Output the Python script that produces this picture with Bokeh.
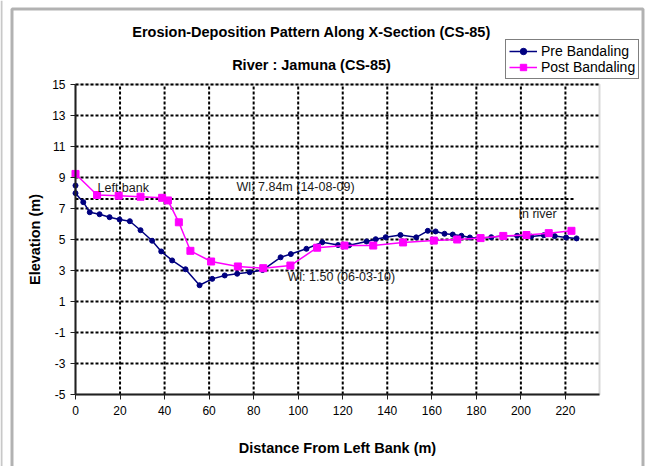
from math import pi
from bokeh.plotting import figure
from bokeh.models import (Range1d, FixedTicker, Label, Legend, LegendItem,
                          BoxAnnotation, Span)
from bokeh.embed import file_html
from bokeh.resources import INLINE

# ---------------- data ----------------
pre_x = [0, 0, 3.5, 6.4, 10.8, 15.3, 19.8, 24.4, 29.2, 34.4, 38.5, 43.4, 49.4,
         55.7, 61.4, 67.0, 72.6, 78.2, 84.0, 92.1, 96.7, 103.7, 110.8, 117.9,
         122.9, 130.7, 134.8, 139.3, 145.9, 153.0, 158.2, 161.7, 165.7, 169.4,
         173.3, 177.1, 181.9, 186.7, 192.1, 198.3, 204.6, 210.3, 215.2, 220.3, 225.0]
pre_y = [8.48, 7.99, 7.41, 6.76, 6.63, 6.44, 6.29, 6.18, 5.60, 4.92, 4.23, 3.65, 3.08,
         2.05, 2.46, 2.68, 2.79, 2.89, 3.03, 3.85, 4.06, 4.40, 4.82, 4.64,
         4.63, 4.87, 5.02, 5.15, 5.29, 5.14, 5.56, 5.52, 5.37, 5.32,
         5.24, 5.13, 5.09, 5.15, 5.24, 5.24, 5.19, 5.28, 5.22, 5.13, 5.07]

post_x = [0, 9.7, 19.4, 29.2, 38.9, 41.5, 46.4, 51.6, 60.9, 72.9, 84.3, 96.5,
          108.5, 120.8, 133.7, 147.1, 160.9, 171.4, 181.9, 192.1, 202.5, 212.5, 222.7]
post_y = [9.23, 7.87, 7.83, 7.76, 7.69, 7.52, 6.11, 4.27, 3.58, 3.26, 3.15, 3.32,
          4.47, 4.61, 4.61, 4.81, 4.93, 5.00, 5.09, 5.23, 5.29, 5.41, 5.56]

wl_x = [0, 224.5]
wl_y = [7.62, 7.62]

x_ticks = [0, 20, 40, 60, 80, 100, 120, 140, 160, 180, 200, 220]
y_ticks = [-5, -3, -1, 1, 3, 5, 7, 9, 11, 13, 15]

title_main = "Erosion-Deposition Pattern Along X-Section (CS-85)"
title_sub = "River : Jamuna (CS-85)"
x_label = "Distance From Left Bank (m)"
y_label = "Elevation (m)"
series_names = ["Pre Bandaling", "Post Bandaling"]

FONT = "Liberation Sans"

# ---------------- geometry ----------------
W, H = 646, 466
PLOT_L, PLOT_R, PLOT_T, PLOT_B = 75, 599, 84, 394
X_MIN, X_MAX, Y_MIN, Y_MAX = 0, 235.3, -5, 15
KX = (PLOT_R - PLOT_L) / (X_MAX - X_MIN)
KY = (PLOT_B - PLOT_T) / (Y_MAX - Y_MIN)


def px2x(px):
    return X_MIN + (px - PLOT_L) / KX


def py2y(py):
    return Y_MAX - (py - PLOT_T) / KY


p = figure(width=W, height=H,
           x_range=Range1d(px2x(0), px2x(W)), y_range=Range1d(py2y(H), py2y(0)),
           output_backend="svg", toolbar_location=None)
p.min_border_left = 0
p.min_border_right = 0
p.min_border_top = 0
p.min_border_bottom = 0
p.outline_line_color = None
p.background_fill_color = "white"
p.border_fill_color = "white"
p.xgrid.visible = False
p.ygrid.visible = False

# outer chart border
p.add_layout(BoxAnnotation(left=px2x(11.5), right=px2x(642.5), top=py2y(8.5),
                           bottom=py2y(H + 30), fill_color=None,
                           line_color="black", line_width=3))
p.add_layout(Span(location=px2x(1), dimension="height", line_color="#c8c8c8",
                  line_width=2))

# plot area border
p.add_layout(BoxAnnotation(left=X_MIN, right=X_MAX, bottom=Y_MIN, top=Y_MAX,
                           fill_color="white", fill_alpha=1,
                           line_color="#808080", line_width=2, level="underlay"))

# grid lines
gx = [t for t in x_ticks if t != X_MIN]
gy = [t for t in y_ticks if t != Y_MIN]
p.segment(x0=gx, y0=[Y_MIN] * len(gx), x1=gx, y1=[Y_MAX] * len(gx),
          line_color="black", line_width=2, line_dash="3 2")
p.segment(x0=[X_MIN] * len(gy), y0=gy, x1=[X_MAX] * len(gy), y1=gy,
          line_color="black", line_width=2, line_dash="3 2")

# axes
xa = p.xaxis[0]
xa.fixed_location = Y_MIN
xa.bounds = (X_MIN, X_MAX)
ya = p.yaxis[0]
ya.fixed_location = X_MIN
ya.bounds = (Y_MIN, Y_MAX)
for ax, ticks in ((xa, x_ticks), (ya, y_ticks)):
    ax.ticker = FixedTicker(ticks=ticks)
    ax.major_label_overrides = {t: str(t) for t in ticks}
    ax.minor_tick_line_color = None
    ax.major_tick_in = 0
    ax.major_tick_out = 5
    ax.axis_line_color = "#202020"
    ax.axis_line_width = 2
    ax.major_tick_line_color = "#202020"
    ax.major_tick_line_width = 1
    ax.major_label_text_font = FONT
    ax.major_label_text_font_size = "12px"
    ax.major_label_text_color = "black"
ya.major_label_standoff = 5
xa.major_label_standoff = 6

# water level line
p.line(wl_x, wl_y, line_color="black", line_width=2, line_dash="3 2")

r1 = p.line(pre_x, pre_y, line_color="#000080", line_width=1.5)
r2 = p.scatter(pre_x, pre_y, marker="circle", size=5, fill_color="#000080",
               line_color="#000080")
r3 = p.line(post_x, post_y, line_color="#FF00FF", line_width=1.5)
r4 = p.scatter(post_x, post_y, marker="square", size=7, fill_color="#FF00FF",
               line_color="#FF00FF")

legend = Legend(items=[LegendItem(label=series_names[0], renderers=[r1, r2]),
                       LegendItem(label=series_names[1], renderers=[r3, r4])],
                location=(505, H - 79))
legend.label_text_font = FONT
legend.label_text_font_size = "14px"
legend.label_text_color = "black"
legend.label_height = 16
legend.glyph_height = 16
legend.glyph_width = 28
legend.label_standoff = 4
legend.padding = 3
legend.spacing = 0
legend.margin = 0
legend.border_line_color = "black"
legend.border_line_width = 1
legend.background_fill_color = "white"
legend.background_fill_alpha = 1
p.add_layout(legend, "center")


def add_text(px, py, text, size="12.5px", bold=False, align="left", angle=0,
             color="#1a1a1a"):
    p.add_layout(Label(x=px2x(px), y=py2y(py), text=text, text_font=FONT,
                       text_font_size=size,
                       text_font_style="bold" if bold else "normal",
                       text_align=align, text_baseline="middle",
                       angle=angle, text_color=color))


add_text(311, 31, title_main, size="14.5px", bold=True, align="center", color="black")
add_text(311, 64, title_sub, size="14.5px", bold=True, align="center", color="black")
add_text(337, 447, x_label, size="14.5px", bold=True, align="center", color="black")
add_text(34, 239, y_label, size="14.5px", bold=True, align="center", angle=pi / 2,
         color="black")

add_text(97, 187, "Left bank")
add_text(236, 186, "Wl: 7.84m (14-08-09)")
add_text(287, 276.5, "Wl: 1.50 (06-03-10)")
add_text(518, 213.5, "In river")

open("out.html", "w").write(file_html(p, INLINE))
